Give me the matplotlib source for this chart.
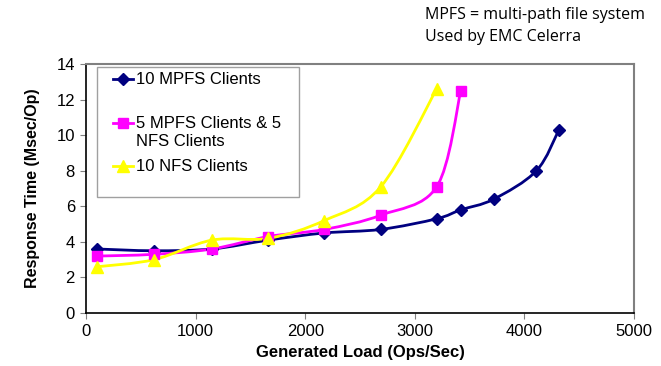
import numpy as np
import matplotlib
matplotlib.use('Agg')
import matplotlib.pyplot as plt
from matplotlib.path import Path
from matplotlib.patches import PathPatch, Rectangle
from matplotlib.lines import Line2D

plt.rcParams['font.family'] = ['Liberation Sans', 'DejaVu Sans']

# Chart data
loadMpfs = [100, 620, 1150, 1665, 2175, 2690, 3200, 3420, 3720, 4110, 4315]
timeMpfs = [3.6, 3.5, 3.6, 4.1, 4.5, 4.7, 5.3, 5.8, 6.4, 8.0, 10.3]
loadMixed = [100, 620, 1150, 1665, 2175, 2690, 3200, 3420]
timeMixed = [3.2, 3.3, 3.6, 4.3, 4.7, 5.5, 7.1, 12.5]
loadNfs = [100, 620, 1150, 1665, 2175, 2690, 3200]
timeNfs = [2.6, 3.0, 4.1, 4.2, 5.2, 7.1, 12.6]

seriesNames = ['10 MPFS Clients', '5 MPFS Clients & 5\nNFS Clients', '10 NFS Clients']
noteLines = ['MPFS = multi-path file system', 'Used by EMC Celerra']

W, H = 661, 366


#=====================================================
# Build an Excel style smoothed path (cubic Bezier through each point).
def smoothPath(xs, ys):
    pts = np.column_stack([xs, ys]).astype(float)
    verts = [pts[0]]
    codes = [Path.MOVETO]
    n = len(pts)
    for i in range(n - 1):
        p0 = pts[i - 1] if i > 0 else pts[i]
        p1 = pts[i]
        p2 = pts[i + 1]
        p3 = pts[i + 2] if i + 2 < n else pts[i + 1]
        c1 = p1 + (p2 - p0) / 6.0
        c2 = p2 - (p3 - p1) / 6.0
        verts += [c1, c2, p2]
        codes += [Path.CURVE4] * 3
    return Path(verts, codes)


# Pixel (from top-left) to figure fraction helpers.
def fx(px):
    return px / W


def fy(py):
    return 1 - py / H


fig = plt.figure(figsize=(W / 100, H / 100), dpi=100)
ax = fig.add_axes([fx(86), fy(313), 548 / W, 249 / H])

styles = [
    (loadMpfs, timeMpfs, '#000080', 'D', 6),
    (loadMixed, timeMixed, '#FF00FF', 's', 7),
    (loadNfs, timeNfs, '#FFFF00', '^', 8),
]

for xs, ys, colour, marker, size in styles:
    patch = PathPatch(smoothPath(xs, ys), facecolor='none', edgecolor=colour, lw=2.0, zorder=2)
    ax.add_patch(patch)
    ax.plot(xs, ys, linestyle='none', marker=marker, markersize=size,
            color=colour, markeredgecolor=colour, zorder=3)

ax.set_xlim(0, 5000)
ax.set_ylim(0, 14)
ax.set_xticks(np.arange(0, 5001, 1000))
ax.set_yticks(np.arange(0, 15, 2))
ax.tick_params(direction='out', length=4, color='#808080', labelsize=12, pad=4)

ax.spines['left'].set_color('black')
ax.spines['bottom'].set_color('black')
ax.spines['left'].set_linewidth(1.2)
ax.spines['bottom'].set_linewidth(1.2)
ax.spines['top'].set_color('#808080')
ax.spines['right'].set_color('#808080')
ax.spines['top'].set_linewidth(1.5)
ax.spines['right'].set_linewidth(1.5)

ax.set_xlabel('Generated Load (Ops/Sec)', fontsize=12, fontweight='bold', labelpad=4)
ax.set_ylabel('Response Time (Msec/Op)', fontsize=11.5, fontweight='bold', labelpad=12)

#Legend drawn by hand to keep Excel's uneven entry spacing.
fig.add_artist(Rectangle((fx(97), fy(197)), (299 - 97) / W, (197 - 67) / H,
                         transform=fig.transFigure, facecolor='white',
                         edgecolor='#A0A0A0', lw=1.0, zorder=5))
entryY = [79, 123, 166]
for (xs, ys, colour, marker, size), name, py in zip(styles, seriesNames, entryY):
    fig.add_artist(Line2D([fx(113), fx(133)], [fy(py), fy(py)], transform=fig.transFigure,
                          color=colour, lw=2.0, zorder=6))
    fig.add_artist(Line2D([fx(123)], [fy(py)], transform=fig.transFigure, color=colour,
                          marker=marker, markersize=size, zorder=7))
    for k, line in enumerate(name.split('\n')):
        fig.text(fx(136), fy(py + 19 * k), line, fontsize=12, va='center', ha='left', zorder=7)

fig.text(fx(425), fy(15), noteLines[0], fontsize=11.5, family='Open Sans', va='center')
fig.text(fx(425), fy(37), noteLines[1], fontsize=11.5, family='Open Sans', va='center')

fig.savefig('out.png', dpi=100)
